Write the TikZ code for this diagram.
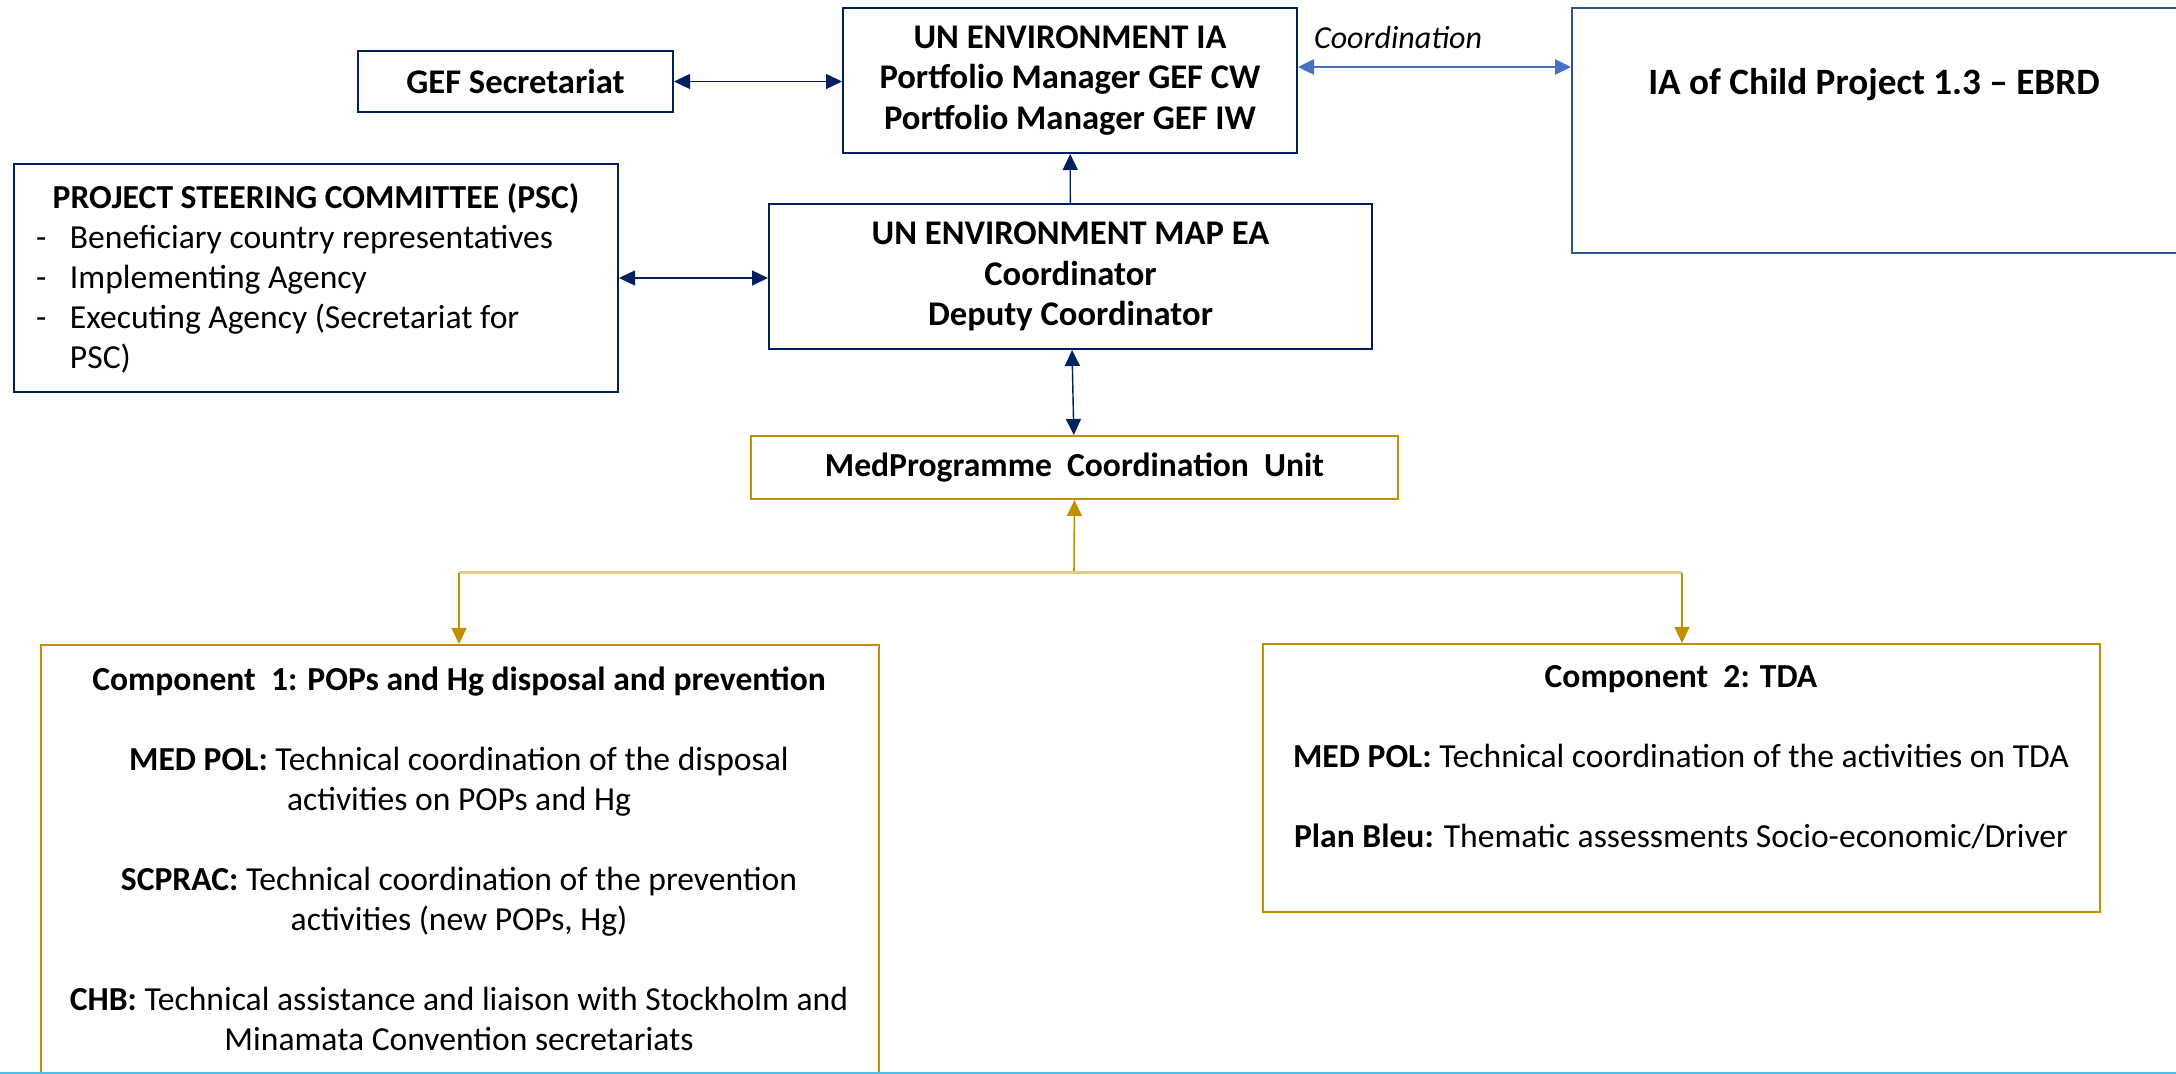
\documentclass[tikz,border=0pt]{standalone}
\usepackage{fontspec}
\setmainfont{Carlito}
\usetikzlibrary{arrows.meta,positioning}
\definecolor{navy}{RGB}{0,32,96}
\definecolor{ebrdblue}{RGB}{68,114,196}
\definecolor{childblue}{RGB}{47,85,151}
\definecolor{gold}{RGB}{191,144,0}
\definecolor{lightgold}{RGB}{226,204,134}
\definecolor{pageline}{RGB}{80,190,235}
\newcommand{\boxfont}{\fontsize{16.8}{20}\selectfont}
\newcommand{\topfont}{\fontsize{17.3}{20.2}\selectfont}

\begin{document}
\begin{tikzpicture}[x=0.5pt,y=-0.5pt,>={Triangle[length=8pt,width=7.5pt]}]
	\tikzstyle{navybox}
	  =[draw=navy, line width=1pt, rectangle, inner sep=0pt,
	  font=\topfont\bfseries, align=center]
	\tikzstyle{goldbox}
	  =[draw=gold, line width=1pt, rectangle, inner sep=0pt]
	\tikzstyle{navyline}=[navy, line width=0.7pt]
	\tikzstyle{goldline}=[gold, line width=0.8pt]

	\useasboundingbox (0,0) rectangle (2176,1074);
	\clip (0,0) rectangle (2176,1074);

	\node[navybox, minimum width=157.5pt, minimum height=30.5pt] (gef)
	  at (515.5,81.5) {GEF Secretariat};
	\node[navybox, minimum width=227pt, minimum height=72.5pt] (ia)
	  at (1070,80.5) {UN ENVIRONMENT IA\\Portfolio Manager GEF CW\\Portfolio Manager GEF IW};
	\node[draw=childblue, line width=1pt, inner sep=0pt, minimum width=304pt,
	  minimum height=122.5pt, anchor=north west] (child)
	  at (1571,7) {};
	\node[font=\fontsize{18.6}{22}\selectfont\bfseries] (childtxt)
	  at (1874,85) {IA of Child Project 1.3 – EBRD};
	\node[font=\fontsize{16}{19}\selectfont\itshape, anchor=west] (coordlbl)
	  at (1307,38) {Coordination};

	\node[navybox, font=\boxfont, align=left,
	  minimum width=302pt, minimum height=114pt] (psc)
	  at (316,278) {\makebox[280pt][c]{\bfseries PROJECT STEERING COMMITTEE (PSC)}\\
	  \makebox[17pt][l]{-}Beneficiary country representatives\\
	  \makebox[17pt][l]{-}Implementing Agency\\
	  \makebox[17pt][l]{-}Executing Agency (Secretariat for\\
	  \hspace*{17pt}PSC)};
	\node[navybox, minimum width=301.5pt, minimum height=72.5pt] (ea)
	  at (1070.5,276.5) {UN ENVIRONMENT MAP EA\\Coordinator\\Deputy Coordinator};

	\node[goldbox, font=\boxfont\bfseries, minimum width=323.5pt, minimum height=31.5pt] (med)
	  at (1074.5,467.5) {MedProgramme\ \ Coordination\ \ Unit};

	\node[goldbox, minimum width=419pt, minimum height=230pt, anchor=north west] (comp1)
	  at (40,644) {};
	\node[font=\boxfont, align=center] (comp1txt)
	  at (459,859) {\textbf{Component\ \ 1: POPs and Hg disposal and prevention}\\[20pt]
	  \textbf{MED POL:} Technical coordination of the disposal\\
	  activities on POPs and Hg\\[20pt]
	  \textbf{SCPRAC:} Technical coordination of the prevention\\
	  activities (new POPs, Hg)\\[20pt]
	  \textbf{CHB:} Technical assistance and liaison with Stockholm and\\
	  Minamata Convention secretariats};
	\node[goldbox, minimum width=418.5pt, minimum height=134pt] (comp2)
	  at (1681.5,778) {};
	\node[font=\boxfont, align=center] (comp2txt)
	  at (1681,757) {\textbf{Component\ \ 2: TDA}\\[20pt]
	  \textbf{MED POL:} Technical coordination of the activities on TDA\\[20pt]
	  \textbf{Plan Bleu:} Thematic assessments Socio-economic/Driver};

	\coordinate (split) at (1074,573);
	\coordinate (lsplit) at (459,573);
	\coordinate (rsplit) at (1682,573);

	\draw[navyline,<->] (gef.east) -- (gef.east -| ia.west);
	\draw[navyline,<->] (psc.east) -- (psc.east -| ea.west);
	\draw[navyline,->] (ea) -- (ia);
	\draw[navyline,<->] (ea) -- (med);
	\draw[ebrdblue, line width=1.3pt, <->] ([yshift=6.75pt]ia.east) -- ([yshift=6.75pt]ia.east -| child.west);

	\draw[goldline,->] (split) -- (med.south);
	\draw[lightgold, line width=1.5pt] (lsplit) -- (rsplit);
	\draw[goldline,->] (lsplit) -- (comp1.north -| lsplit);
	\draw[goldline,->] (rsplit) -- (comp2.north -| rsplit);

	\draw[pageline, line width=1pt] (0,1073) -- (2176,1073);
\end{tikzpicture}
\end{document}
